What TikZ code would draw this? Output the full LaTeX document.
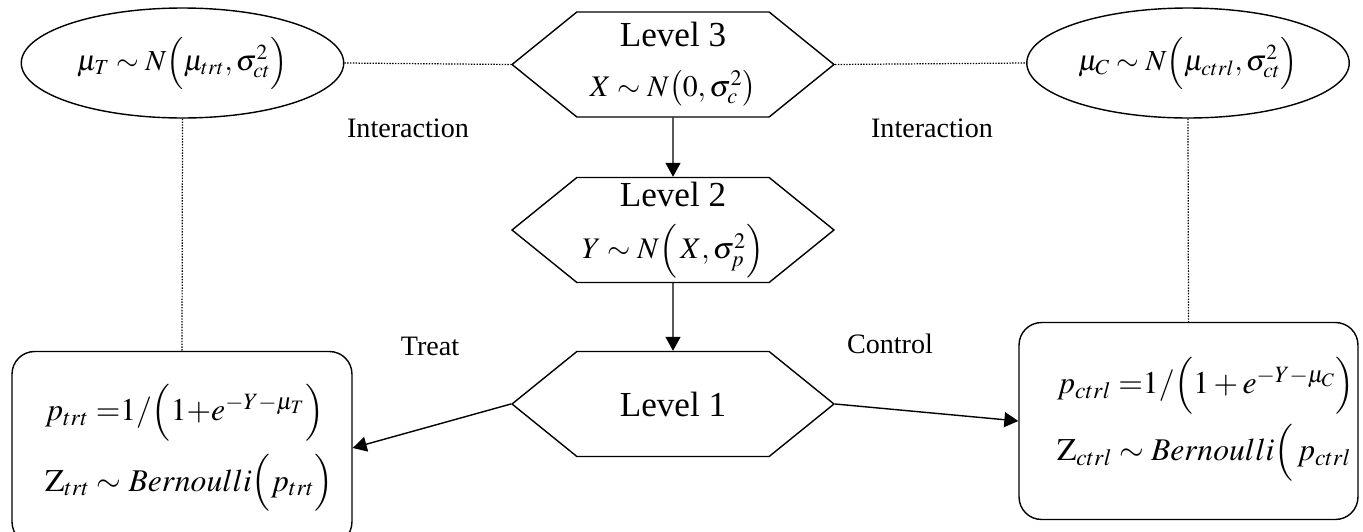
\documentclass[tikz,border=0pt]{standalone}
\usepackage{amsmath}
\usepackage{mathptmx}
\usepackage[no-math]{fontspec}
\setmainfont{Liberation Serif}
\usepackage{tikz}
\usetikzlibrary{positioning,arrows.meta,shapes.geometric,shapes.symbols}

\begin{document}
\begin{tikzpicture}[
    x=0.02cm, y=-0.02cm,
    hexa/.style={signal, signal to=west and east, signal pointer angle=78, draw=black, line width=0.8pt, minimum width=6.44cm, minimum height=2.1cm, inner sep=0pt, align=center, font=\fontsize{20}{28}\selectfont},
    prior/.style={ellipse, draw=black, line width=0.8pt, minimum width=6.45cm, minimum height=2.2cm, inner sep=0pt, font=\fontsize{16.5}{20}\selectfont},
    outcome/.style={rectangle, draw=black, line width=0.8pt, rounded corners=0.45cm, align=left, font=\fontsize{18}{40}\selectfont},
    arrow/.style={-{Triangle[length=0.28cm, width=0.3cm]}, line width=0.8pt},
    link/.style={dash pattern=on 0.8pt off 0.8pt, line width=0.7pt},
    lbl/.style={font=\fontsize{16}{18}\selectfont},
]
\useasboundingbox (0,0) rectangle (1363,531);

% Levels
\node[hexa] (level3) at (673,64.5) {Level 3\\[0pt] {\fontsize{17}{20}\selectfont$X \sim N\bigl(0,\sigma_c^2\bigr)$}};
\node[hexa] (level2) at (673,230) {Level 2\\[2pt] {\fontsize{17}{20}\selectfont$Y \sim N\Bigl(\,X,\sigma_p^2\Bigr)$}};
\node[hexa] (level1) at (673,404) {Level 1};

% Priors
\node[prior] (trtprior) at (182.5,63) {$\mu_T \sim N\Bigl(\mu_{trt},\sigma_{ct}^2\Bigr)$};
\node[prior] (ctrlprior) at (1188,63) {$\mu_C \sim N\Bigl(\mu_{ctrl},\sigma_{ct}^2\Bigr)$};

% Outcomes
\node[outcome, minimum width=6.8cm, minimum height=3.86cm, inner xsep=0.66cm, text width=5.48cm] (trtbox) at (182,448)
    {\mbox{$p_{trt}\;{=}1/\Bigl(1{+}e^{-Y-\mu_T}\Bigr)$}\\ \mbox{$\mathrm{Z}_{trt}\sim Bernoulli\Bigl(p_{trt}\Bigr)$}};
\node[outcome, minimum width=6.78cm, minimum height=3.94cm, inner xsep=0.76cm, text width=5.26cm, font=\fontsize{18}{36}\selectfont] (ctrlbox) at (1188.5,421)
    {\mbox{$p_{ctrl}\;{=}1/\Bigl(1+e^{-Y-\mu_C}\Bigr)$}\\[2pt] \mbox{$\mathrm{Z}_{ctrl}\sim Bernoulli\Bigl(\,p_{ctrl}$}\\[-22pt]\mbox{}};

% Labels
\node[lbl] (int1) at (408,128) {Interaction};
\node[lbl] (int2) at (932,128) {Interaction};
\node[lbl] (treat) at (430,346) {Treat};
\node[lbl] (control) at (890,344) {Control};

% Arrows
\draw[arrow] (level3) -- (level2);
\draw[arrow] (level2) -- (level1);
\draw[arrow] (level1.west) -- (trtbox.east);
\draw[arrow] (level1.east) -- (ctrlbox.west);

% Dotted links
\draw[link] (trtprior.east) -- (level3.west);
\draw[link] (level3.east) -- (ctrlprior.west);
\draw[link] (trtprior.south) -- (trtbox.north);
\draw[link] (ctrlprior.south) -- (ctrlbox.north);

\end{tikzpicture}
\end{document}
